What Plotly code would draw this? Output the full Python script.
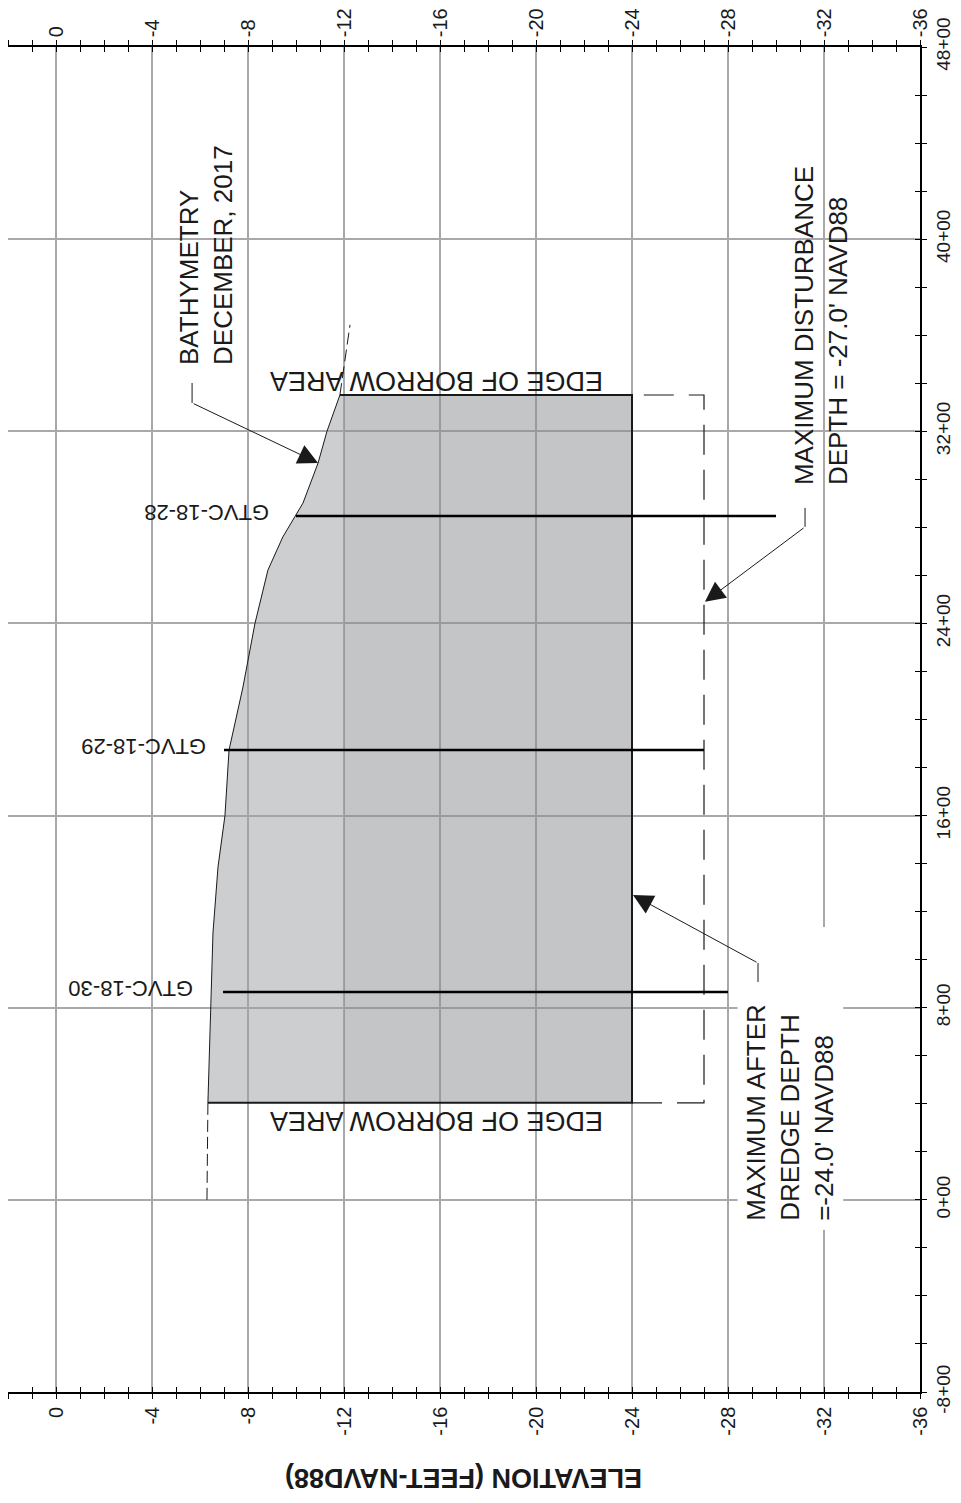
import plotly.graph_objects as go

# December 2017 bathymetry, station (ft) vs elevation (ft NAVD88)
bathy_station = [0, 200, 404, 553, 800, 1111, 1386, 1600, 1873, 2135, 2400, 2622, 2760,
                 2847, 2901, 3068, 3200, 3351, 3500, 3643]
bathy_elev = [-6.29, -6.31, -6.33, -6.38, -6.46, -6.54, -6.75, -7.04, -7.21, -7.79, -8.29,
              -8.83, -9.45, -9.96, -10.29, -10.92, -11.29, -11.83, -12.05, -12.25]

borrow_start = 404
borrow_end = 3351
dredge_depth = -24.0
disturb_depth = -27.0
streak_depth = -12.0

core_names = ["GTVC-18-30", "GTVC-18-29", "GTVC-18-28"]
core_station = [865, 1873, 2847]
core_top = [-6.96, -7.0, -10.0]
core_bottom = [-28.0, -27.0, -30.0]
core_label_shift = [-28, -16, -25]

elev_ticks = list(range(0, -37, -4))
station_ticks = list(range(-800, 4801, 800))
station_labels = [f"{s // 100}+00" for s in station_ticks]

FONT = "Liberation Sans, Arial, sans-serif"
INK = "#1a1a1a"
GRID = "#a9a9ab"

i0 = bathy_station.index(borrow_start)
i1 = bathy_station.index(borrow_end)

fig = go.Figure()

# --- borrow area fill (lighter streaky band near the surface, uniform below) ---
fig.add_trace(go.Scatter(
    x=bathy_elev[i0:i1 + 1] + [streak_depth, streak_depth],
    y=bathy_station[i0:i1 + 1] + [borrow_end, borrow_start],
    fill="toself", fillcolor="rgba(156,158,162,0.5)", mode="none",
    hoverinfo="skip", showlegend=False))
fig.add_trace(go.Scatter(
    x=[streak_depth, dredge_depth, dredge_depth, streak_depth],
    y=[borrow_start, borrow_start, borrow_end, borrow_end],
    fill="toself", fillcolor="rgba(138,140,144,0.5)", mode="none",
    hoverinfo="skip", showlegend=False))

# --- bathymetry line: dashed outside the borrow area, solid inside ---
fig.add_trace(go.Scatter(x=bathy_elev[:i0 + 1], y=bathy_station[:i0 + 1], mode="lines",
                         line=dict(color=INK, width=1, dash="12px,5px"), showlegend=False))
fig.add_trace(go.Scatter(x=bathy_elev[i0:i1 + 1], y=bathy_station[i0:i1 + 1], mode="lines",
                         line=dict(color=INK, width=1), showlegend=False))
fig.add_trace(go.Scatter(x=bathy_elev[i1:], y=bathy_station[i1:], mode="lines",
                         line=dict(color=INK, width=1, dash="12px,5px"), showlegend=False))

# --- dredge template outline ---
fig.add_trace(go.Scatter(
    x=[bathy_elev[i0], dredge_depth, dredge_depth, bathy_elev[i1]],
    y=[borrow_start, borrow_start, borrow_end, borrow_end],
    mode="lines", line=dict(color=INK, width=2), showlegend=False))

# --- maximum disturbance (dashed) ---
fig.add_trace(go.Scatter(
    x=[dredge_depth, disturb_depth, disturb_depth, dredge_depth],
    y=[borrow_start, borrow_start, borrow_end, borrow_end],
    mode="lines", line=dict(color=INK, width=1.2, dash="30px,15px"), showlegend=False))

# --- vibracores ---
for name, st, top, bot in zip(core_names, core_station, core_top, core_bottom):
    fig.add_trace(go.Scatter(x=[top, bot], y=[st, st], mode="lines",
                             line=dict(color="black", width=2.5), showlegend=False))

# dummy trace so the overlay axes (inner half of the crossing ticks) get drawn
fig.add_trace(go.Scatter(x=[None], y=[None], xaxis="x2", yaxis="y2", showlegend=False))

ann = []
txt = dict(family=FONT, size=26, color=INK)

for name, st, top, sh in zip(core_names, core_station, core_top, core_label_shift):
    ann.append(dict(x=top, y=st, text=name, showarrow=False, textangle=180,
                    xanchor="right", yanchor="middle", xshift=sh, yshift=3,
                    font=dict(family=FONT, size=22, color=INK)))

for st, ys in [(borrow_end, 14), (borrow_start, -18)]:
    ann.append(dict(x=-15.875, y=st, text="EDGE OF BORROW AREA", showarrow=False,
                    textangle=180, xanchor="center", yanchor="middle", yshift=ys,
                    font=dict(family=FONT, size=27, color=INK)))

ann.append(dict(x=-6.25, y=3934, text="BATHYMETRY<br>DECEMBER, 2017", showarrow=False,
                textangle=-90, align="left", xanchor="center", yanchor="middle", font=txt))
ann.append(dict(x=-31.875, y=3638, text="MAXIMUM DISTURBANCE<br>DEPTH = -27.0' NAVD88",
                showarrow=False, textangle=-90, align="left", xanchor="center",
                yanchor="middle", font=txt))
ann.append(dict(x=-30.58, y=366, text="MAXIMUM AFTER<br>DREDGE DEPTH<br>=-24.0' NAVD88",
                showarrow=False, textangle=-90, align="left", xanchor="center",
                yanchor="middle", font=txt))

# leader arrows
for tip, tail in [((-10.92, 3068), (-5.67, 3318)),
                  ((-27.04, 2490), (-31.21, 2802)),
                  ((-24.04, 1269), (-29.25, 986))]:
    ann.append(dict(x=tip[0], y=tip[1], ax=tail[0], ay=tail[1], axref="x", ayref="y",
                    text="", showarrow=True, arrowhead=2, arrowsize=4, arrowwidth=1,
                    arrowcolor=INK))

ann.append(dict(x=0.5, y=-0.064, xref="paper", yref="paper", showarrow=False,
                text="<b>ELEVATION (FEET-NAVD88)</b>", textangle=180,
                xanchor="center", yanchor="middle",
                font=dict(family=FONT, size=27, color=INK)))

shapes = [
    dict(type="line", x0=-5.67, x1=-5.67, y0=3318, y1=3401, line=dict(color=INK, width=1)),
    dict(type="line", x0=-31.21, x1=-31.21, y0=2802, y1=2881, line=dict(color=INK, width=1)),
    dict(type="line", x0=-29.25, x1=-29.25, y0=986, y1=907, line=dict(color=INK, width=1)),
    # white knock-out behind the dredge depth note
    dict(type="rect", x0=-28.4, x1=-32.8, y0=-125, y1=1136, layer="between",
         fillcolor="white", line=dict(width=0)),
]

tickfont = dict(family=FONT, size=20, color=INK)
xcommon = dict(range=[2, -36], tickvals=elev_ticks, ticktext=[str(v) for v in elev_ticks],
               tickangle=-90, tickfont=tickfont, ticklen=5, tickcolor="black",
               showline=True, linecolor="black", linewidth=1.5, zeroline=False,
               automargin=False, fixedrange=True)
ycommon = dict(range=[-800, 4800], tickvals=station_ticks, ticktext=station_labels,
               tickangle=-90, tickfont=dict(family=FONT, size=19, color=INK), ticklen=5,
               tickcolor="black", showline=True, linecolor="black", linewidth=1.5,
               zeroline=False, automargin=False, fixedrange=True)

# page body has an 8px margin, so the figure is 8px smaller than the window
fig.update_layout(
    width=953, height=1495,
    template="none",
    paper_bgcolor="white", plot_bgcolor="white",
    margin=dict(l=0, r=41, t=39, b=111),
    showlegend=False,
    xaxis=dict(**xcommon, side="bottom", ticks="outside", mirror="ticks",
               showgrid=True, gridcolor=GRID, gridwidth=1.8, ticklabelstandoff=0,
               minor=dict(dtick=1, tick0=0, ticks="outside", ticklen=5, tickcolor="black",
                          showgrid=False)),
    xaxis2=dict(**xcommon, side="top", overlaying="x", anchor="y", ticks="inside",
                mirror="ticks", showgrid=False, ticklabelstandoff=4,
                minor=dict(dtick=1, tick0=0, ticks="inside", ticklen=5, tickcolor="black",
                           showgrid=False)),
    yaxis=dict(**ycommon, side="right", ticks="outside", mirror=True,
               showgrid=True, gridcolor=GRID, gridwidth=1.8, ticklabelstandoff=0,
               minor=dict(dtick=200, tick0=0, ticks="outside", ticklen=5, tickcolor="black",
                          showgrid=False)),
    yaxis2=dict(**ycommon, side="right", overlaying="y", anchor="x", ticks="inside",
                showticklabels=False, showgrid=False,
                minor=dict(dtick=200, tick0=0, ticks="inside", ticklen=5, tickcolor="black",
                           showgrid=False)),
    annotations=ann,
    shapes=shapes,
)

fig.write_html("out.html")
